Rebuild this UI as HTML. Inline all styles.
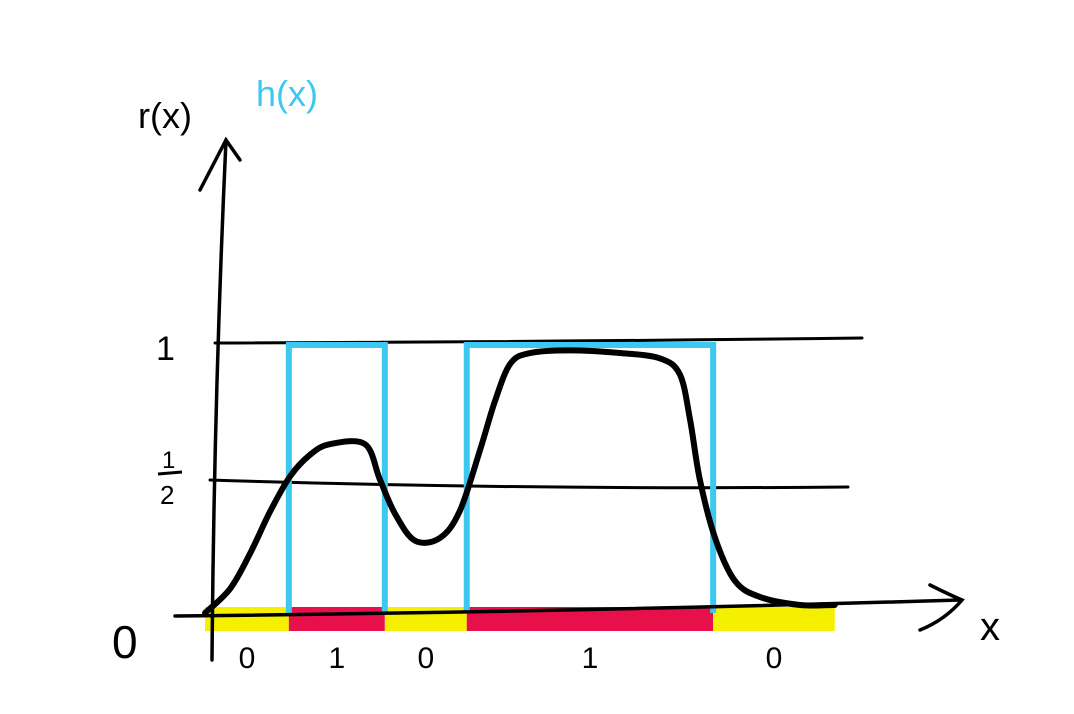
<!DOCTYPE html>
<html><head><meta charset="utf-8"><style>
html,body{margin:0;padding:0;background:#fff;}
svg{display:block;}
text{font-family:"Liberation Sans",sans-serif;}
</style></head><body>
<svg id="chart" width="1074" height="714" viewBox="0 0 1074 714" xmlns="http://www.w3.org/2000/svg">
<g id="bars"></g>
<g stroke="#000" stroke-width="3" fill="none" stroke-linecap="round">
<path d="M215 343 Q540 342 862 338"/>
<path d="M210 480 Q520 490 848 487"/>
</g>
<g id="hx"></g>
<g stroke="#000" stroke-width="3.5" fill="none" stroke-linecap="round">
<path d="M212 660 Q214 400 226 140"/>
<path d="M200 190 L226 140 L240 160"/>
<path d="M175 616 Q560 612 960 600"/>
<path d="M930 585 Q950 595 962 600 Q945 620 920 630"/>
</g>
<path id="curve" fill="none" stroke="#000" stroke-width="6" stroke-linejoin="round" stroke-linecap="round"/>
<g font-size="40" fill="#000">
<text x="138" y="128" font-size="36">r(x)</text>
<text x="256" y="106" font-size="36" fill="#3cc8f0">h(x)</text>
<text x="980" y="640" font-size="40">x</text>
<text x="112" y="658" font-size="46">0</text>
<text x="156" y="360" font-size="34">1</text>
<text x="162" y="468" font-size="24">1</text>
<line x1="158" y1="474" x2="182" y2="472" stroke="#000" stroke-width="3"/>
<text x="160" y="504" font-size="26">2</text>
</g>
<g id="binlabels" font-size="30" fill="#000"></g>
</svg>
<script>
const curveX=[0,0.39,0.70,1.02,1.33,1.64,1.95,2.5,2.73,2.97,3.28,3.67,3.98,4.30,4.53,4.77,5.08,5.70,6.48,7.11,7.42,7.58,7.73,7.97,8.28,8.67,9.30,9.84];
const curveR=[0,0.09,0.22,0.38,0.51,0.59,0.63,0.63,0.50,0.37,0.27,0.28,0.38,0.61,0.79,0.93,0.97,0.98,0.97,0.95,0.89,0.72,0.50,0.28,0.12,0.06,0.03,0.03];
const hBounds=[0,1.31,2.81,4.09,7.94,9.84];
const hValues=[0,1,0,1,0];
const binText=["0","1","0","1","0"];
const ns="http://www.w3.org/2000/svg";
function xs(v){return 205+v*64;}
function ys(v){return 613-v*268;}
// curve (catmull-rom)
const pts=curveX.map((x,i)=>[xs(x),ys(curveR[i])]);
let d="M"+pts[0][0]+" "+pts[0][1];
for(let i=0;i<pts.length-1;i++){
 const p0=pts[Math.max(0,i-1)],p1=pts[i],p2=pts[i+1],p3=pts[Math.min(pts.length-1,i+2)];
 d+=" C"+(p1[0]+(p2[0]-p0[0])/6)+" "+(p1[1]+(p2[1]-p0[1])/6)+" "+(p2[0]-(p3[0]-p1[0])/6)+" "+(p2[1]-(p3[1]-p1[1])/6)+" "+p2[0]+" "+p2[1];
}
document.getElementById('curve').setAttribute('d',d);
const bars=document.getElementById('bars'),hx=document.getElementById('hx'),bl=document.getElementById('binlabels');
for(let i=0;i<hValues.length;i++){
 const x0=xs(hBounds[i]),x1=xs(hBounds[i+1]);
 const r=document.createElementNS(ns,'rect');
 r.setAttribute('x',x0);r.setAttribute('y',607);r.setAttribute('width',x1-x0);r.setAttribute('height',24);
 r.setAttribute('fill',hValues[i]?'#e8104a':'#f5f000');
 
 
 bars.appendChild(r);
 const t=document.createElementNS(ns,'text');
 t.setAttribute('x',(x0+x1)/2);t.setAttribute('y',668);t.setAttribute('text-anchor','middle');
 t.textContent=binText[i];
 
 
 bl.appendChild(t);
 if(hValues[i]){
  const p=document.createElementNS(ns,'path');
  p.setAttribute('d','M'+x0+' '+ys(0)+' L'+x0+' '+ys(hValues[i])+' L'+x1+' '+ys(hValues[i])+' L'+x1+' '+ys(0));
  p.setAttribute('fill','none');p.setAttribute('stroke','#3cc8f0');p.setAttribute('stroke-width','6');
  
  
  hx.appendChild(p);
 }
}
</script>
</body></html>
